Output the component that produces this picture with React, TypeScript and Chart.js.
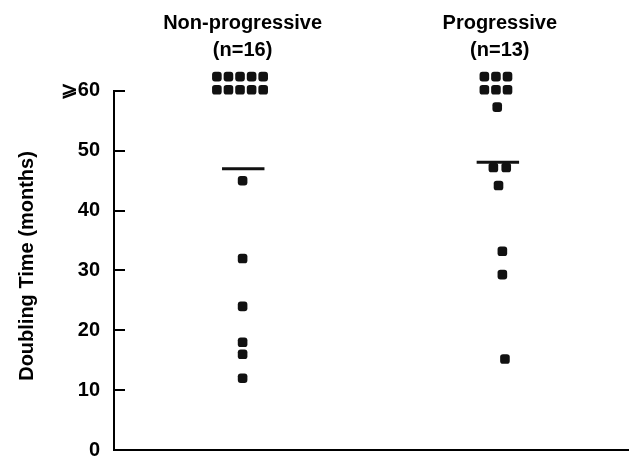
import { useEffect, useRef } from 'react';
import { Chart, registerables } from 'chart.js';

Chart.register(...registerables);

// ---- data ----
const groupNames = ['Non-progressive', 'Progressive'];
const groupCounts = ['(n=16)', '(n=13)'];
const groupCenters = [1, 3];

const yTickValues = [0, 10, 20, 30, 40, 50, 60];
const yTickLabels = ['0', '10', '20', '30', '40', '50', '\u2A7E60'];
const yAxisTitle = 'Doubling Time (months)';

const nonProgX = [0.8, 0.89, 0.98, 1.07, 1.16, 0.8, 0.89, 0.98, 1.07, 1.16, 1.0, 1.0, 1.0, 1.0, 1.0, 1.0];
const nonProgY = [62.4, 62.4, 62.4, 62.4, 62.4, 60.2, 60.2, 60.2, 60.2, 60.2, 45, 32, 24, 18, 16, 12];

const progX = [2.88, 2.97, 3.06, 2.88, 2.97, 3.06, 2.98, 2.95, 3.05, 2.99, 3.02, 3.02, 3.04];
const progY = [62.4, 62.4, 62.4, 60.2, 60.2, 60.2, 57.3, 47.2, 47.2, 44.2, 33.2, 29.3, 15.2];

const nonProgMeanX = [0.84, 1.17];
const nonProgMean = 47.0;
const progMeanX = [2.82, 3.15];
const progMean = 48.1;

const FONT = "'Liberation Sans', Arial, Helvetica, sans-serif";
const INK = '#111';

const decorPlugin = {
  id: 'decor',
  afterDraw(chart: any) {
    const { ctx, chartArea, scales } = chart;
    const xs = scales.x;
    const ys = scales.y;
    const top = ys.getPixelForValue(yTickValues[yTickValues.length - 1]);
    const bottom = ys.getPixelForValue(yTickValues[0]);
    ctx.save();
    ctx.strokeStyle = '#000';
    ctx.lineWidth = 2;
    // y axis line (0 .. 60)
    ctx.beginPath();
    ctx.moveTo(chartArea.left, top - 1);
    ctx.lineTo(chartArea.left, bottom);
    ctx.stroke();
    // inner tick marks
    yTickValues.forEach((v) => {
      if (v === 0) return;
      const py = Math.round(ys.getPixelForValue(v));
      ctx.beginPath();
      ctx.moveTo(chartArea.left - 1, py);
      ctx.lineTo(chartArea.left + 11, py);
      ctx.stroke();
    });
    // column headers
    ctx.fillStyle = '#000';
    ctx.font = `bold 20px ${FONT}`;
    ctx.textAlign = 'center';
    ctx.textBaseline = 'middle';
    groupNames.forEach((name, i) => {
      const px = xs.getPixelForValue(groupCenters[i]);
      ctx.fillText(name, px, 23);
      ctx.fillText(groupCounts[i], px, 50);
    });
    // y-axis title
    ctx.translate(27, 266);
    ctx.rotate(-Math.PI / 2);
    ctx.fillText(yAxisTitle, 0, 0);
    ctx.restore();
  },
};

export default function App() {
  const ref = useRef<HTMLCanvasElement | null>(null);

  useEffect(() => {
    if (!ref.current) return;
    const pts = (xs: number[], ys: number[]) => xs.map((x, i) => ({ x, y: ys[i] }));
    const pointStyle = {
      type: 'scatter' as const,
      pointStyle: 'rectRounded',
      pointRadius: 5.6,
      pointHoverRadius: 5.6,
      backgroundColor: INK,
      borderColor: INK,
      borderWidth: 0,
      showLine: false,
      clip: false as any,
    };
    const meanStyle = {
      type: 'scatter' as const,
      showLine: true,
      pointRadius: 0,
      borderColor: INK,
      borderWidth: 3,
      clip: false as any,
    };
    const chart = new Chart(ref.current, {
      type: 'scatter',
      data: {
        datasets: [
          { ...pointStyle, label: groupNames[0], data: pts(nonProgX, nonProgY) },
          { ...pointStyle, label: groupNames[1], data: pts(progX, progY) },
          { ...meanStyle, label: 'mean ' + groupNames[0], data: nonProgMeanX.map((x) => ({ x, y: nonProgMean })) },
          { ...meanStyle, label: 'mean ' + groupNames[1], data: progMeanX.map((x) => ({ x, y: progMean })) },
        ] as any,
      },
      options: {
        responsive: false,
        animation: false,
        layout: { padding: { top: 67, right: 2, bottom: 11, left: 0 } },
        plugins: { legend: { display: false }, tooltip: { enabled: false } },
        scales: {
          x: {
            type: 'linear',
            min: 0,
            max: 4,
            grid: { display: false, drawTicks: false },
            ticks: { display: false },
            border: { display: true, color: '#000', width: 2 },
            afterFit: (s: any) => {
              s.height = 0;
            },
          },
          y: {
            type: 'linear',
            min: 0,
            max: 64,
            afterBuildTicks: (s: any) => {
              s.ticks = yTickValues.map((v) => ({ value: v }));
            },
            ticks: {
              callback: (v: any) => yTickLabels[yTickValues.indexOf(Number(v))],
              font: { family: FONT, size: 20, weight: 'bold' },
              color: '#000',
              padding: 14,
            },
            grid: { display: false, drawTicks: false },
            border: { display: false },
            afterFit: (s: any) => {
              s.width = 114;
            },
          },
        },
      },
      plugins: [decorPlugin],
    });
    return () => chart.destroy();
  }, []);

  return (
    <div style={{ position: 'fixed', left: 0, top: 0, width: 634, height: 476, background: '#fff' }}>
      <canvas ref={ref} width={634} height={476} style={{ display: 'block' }} />
    </div>
  );
}
